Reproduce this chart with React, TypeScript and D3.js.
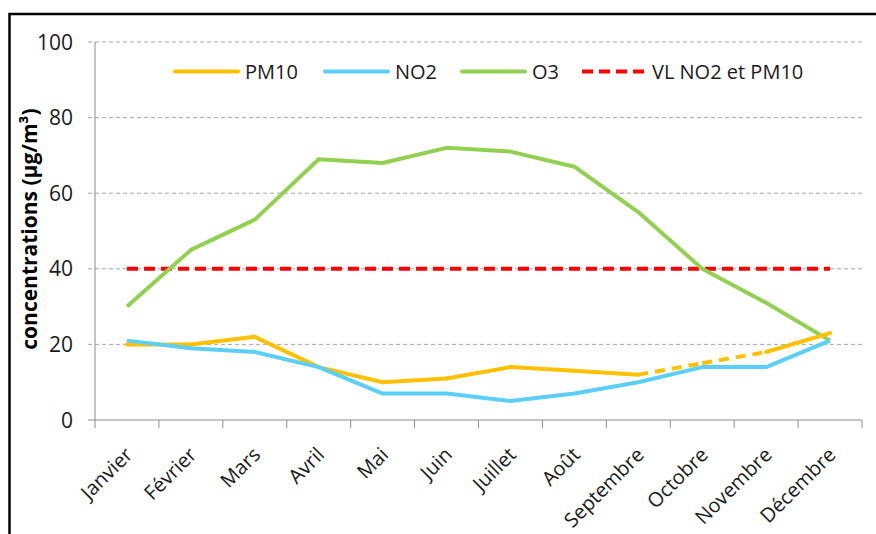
import * as d3 from "d3";

const months = ["Janvier", "Février", "Mars", "Avril", "Mai", "Juin", "Juillet", "Août", "Septembre", "Octobre", "Novembre", "Décembre"];
const pm10 = [20, 20, 22, 14, 10, 11, 14, 13, 12, 15, 18, 23];
// PM10 segments drawn dashed (index of the segment's first month)
const pm10Dashed = [8, 9];
const no2 = [21, 19, 18, 14, 7, 7, 5, 7, 10, 14, 14, 21];
const o3 = [30, 45, 53, 69, 68, 72, 71, 67, 55, 40, 31, 21];
const limitValue = 40;
const yTicks = [0, 20, 40, 60, 80, 100];

const W = 876;
const H = 534;
const left = 95, right = 862, top = 42, bottom = 420;
const font = "'Open Sans', sans-serif";

export default function App() {
  const x = d3.scaleBand<string>().domain(months).range([left, right]);
  const y = d3.scaleLinear().domain([0, 100]).range([bottom, top]);
  const cx = (m: string) => (x(m) ?? 0) + x.bandwidth() / 2;

  const line = d3.line<number>().x((_, i) => cx(months[i])).y((d) => y(d));
  const seg = d3.line<[number, number]>();

  const pmSolid: string[] = [];
  const pmDash: string[] = [];
  for (let i = 0; i < pm10.length - 1; i++) {
    const d = seg([
      [cx(months[i]), y(pm10[i])],
      [cx(months[i + 1]), y(pm10[i + 1])],
    ]) ?? "";
    if (pm10Dashed.includes(i)) pmDash.push(d);
    else pmSolid.push(d);
  }

  const legend = [
    { label: "PM10", color: "#FFC000", x0: 175, dash: undefined as string | undefined },
    { label: "NO2", color: "#5BCFFA", x0: 325, dash: undefined },
    { label: "O3", color: "#92D050", x0: 462, dash: undefined },
    { label: "VL NO2 et PM10", color: "#FF0000", x0: 582, dash: "11,6" },
  ];

  return (
    <svg width={W} height={H} style={{ position: "absolute", left: 0, top: 0, background: "#fff" }}>
      <rect x={9.5} y={14} width={900} height={600} fill="#fff" stroke="#000" strokeWidth={2.5} />

      {yTicks.map((t) => (
        <g key={t}>
          {t > 0 && (
            <line x1={88} x2={right} y1={y(t)} y2={y(t)} stroke="#a6a6a6" strokeWidth={1} strokeDasharray="4,3" />
          )}
          {t === 0 && <line x1={88} x2={left} y1={y(t)} y2={y(t)} stroke="#8c8c8c" strokeWidth={1} />}
          <text x={73} y={y(t)} dy="0.36em" textAnchor="end" fontFamily={font} fontSize={21} fill="#1a1a1a">
            {t}
          </text>
        </g>
      ))}

      <line x1={left} x2={left} y1={top} y2={bottom} stroke="#8c8c8c" strokeWidth={1} />
      <line x1={left} x2={right} y1={bottom} y2={bottom} stroke="#8c8c8c" strokeWidth={1} />
      {months.map((m) => (
        <line key={m} x1={x(m)} x2={x(m)} y1={bottom} y2={bottom + 8} stroke="#8c8c8c" strokeWidth={1} />
      ))}
      <line x1={right} x2={right} y1={bottom} y2={bottom + 8} stroke="#8c8c8c" strokeWidth={1} />

      {months.map((m) => (
        <text
          key={m}
          transform={`translate(${cx(m) + 2},${451}) rotate(-45)`}
          textAnchor="end"
          dy="0.35em"
          fontFamily={font}
          fontSize={20}
          fill="#1a1a1a"
        >
          {m}
        </text>
      ))}

      <text
        transform={`translate(30,${229}) rotate(-90)`}
        textAnchor="middle"
        dy="0.35em"
        fontFamily={font}
        fontWeight="bold"
        fontSize={21}
        fill="#000"
      >
        concentrations (µg/m³)
      </text>

      <path
        d={line(months.map(() => limitValue)) ?? ""}
        fill="none"
        stroke="#FF0000"
        strokeWidth={4}
        strokeDasharray="11,6"
      />
      <path d={line(o3) ?? ""} fill="none" stroke="#92D050" strokeWidth={4} strokeLinejoin="round" />
      {pmSolid.map((d, i) => (
        <path key={i} d={d} fill="none" stroke="#FFC000" strokeWidth={4} strokeLinecap="round" />
      ))}
      {pmDash.map((d, i) => (
        <path key={"d" + i} d={d} fill="none" stroke="#FFC000" strokeWidth={4} strokeDasharray="10,7" />
      ))}
      <path d={line(no2) ?? ""} fill="none" stroke="#5BCFFA" strokeWidth={4} strokeLinejoin="round" />

      {legend.map((l) => (
        <g key={l.label}>
          <line
            x1={l.x0}
            x2={l.x0 + 63}
            y1={71.5}
            y2={71.5}
            stroke={l.color}
            strokeWidth={4}
            strokeLinecap={l.dash ? "butt" : "round"}
            strokeDasharray={l.dash}
          />
          <text x={l.x0 + 70} y={71.5} dy="0.35em" fontFamily={font} fontSize={20} fill="#1a1a1a">
            {l.label}
          </text>
        </g>
      ))}
    </svg>
  );
}
